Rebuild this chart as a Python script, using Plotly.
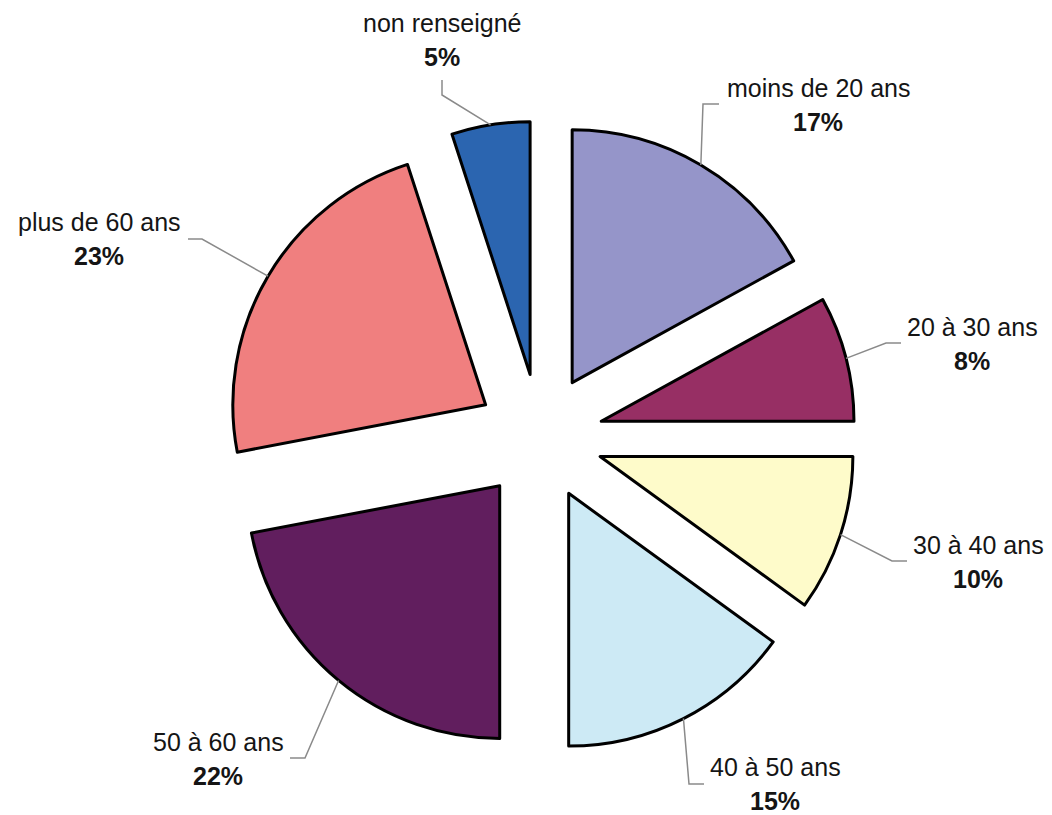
import math
import plotly.graph_objects as go

# Répartition par tranche d'âge (en %)
categories = ["moins de 20 ans", "20 à 30 ans", "30 à 40 ans", "40 à 50 ans",
              "50 à 60 ans", "plus de 60 ans", "non renseigné"]
values = [17, 8, 10, 15, 22, 23, 5]
colors = ["#9595C9", "#972F64", "#FEFBCA", "#CDEAF5", "#611E5E", "#F07F7F", "#2B65B0"]

W, H = 1052, 815
PULL = 0.25
DOM_X = [0.2129, 0.8137]
DOM_Y = [0.0761, 0.8515]
LINE_GAP = 34  # pixels between the name line and the percentage line

# Label anchors (pixel centre of the first line) and leader-line elbow/end points
label_pos = [(818, 88), (972, 327), (978, 545), (775, 767), (218, 742), (99, 222), (442, 23)]
leader_mid = [(703, 104), (886, 343), (892, 561), (689, 784), (305, 758), (202, 239), (442, 95)]
leader_end = [(719, 104), (901, 343), (907, 561), (704, 784), (290, 758), (188, 239), (442, 80)]

fig = go.Figure(go.Pie(
    labels=categories,
    values=values,
    sort=False,
    direction="clockwise",
    rotation=0,
    pull=[PULL] * len(values),
    marker=dict(colors=colors, line=dict(color="#000000", width=3)),
    textinfo="none",
    hoverinfo="label+percent",
    showlegend=False,
    domain=dict(x=DOM_X, y=DOM_Y),
))

# Geometry of the pie in pixels, following plotly's own sizing rule
cx = W * (DOM_X[0] + DOM_X[1]) / 2
cy = H * (1 - (DOM_Y[0] + DOM_Y[1]) / 2)
r = min(W * (DOM_X[1] - DOM_X[0]), H * (DOM_Y[1] - DOM_Y[0])) / 2 / (1 + PULL)
total = sum(values)


def px(x, y):
    return x / W, 1 - y / H


FONT = dict(family="Liberation Sans, Arial, sans-serif", size=25, color="#151515")

shapes = []
annotations = []
cum = 0
for i, (cat, v) in enumerate(zip(categories, values)):
    theta = 2 * math.pi * (cum + v / 2) / total
    cum += v
    rr = r * (1 + PULL)
    sx = cx + rr * math.sin(theta)
    sy = cy - rr * math.cos(theta)
    p0 = px(sx, sy)
    p1 = px(*leader_mid[i])
    p2 = px(*leader_end[i])
    shapes.append(dict(
        type="path", xref="paper", yref="paper",
        path=f"M {p0[0]},{p0[1]} L {p1[0]},{p1[1]} L {p2[0]},{p2[1]}",
        line=dict(color="#8a8a8a", width=1.5),
    ))
    lx, ly = px(*label_pos[i])
    _, ly2 = px(label_pos[i][0], label_pos[i][1] + LINE_GAP)
    annotations.append(dict(
        x=lx, y=ly, xref="paper", yref="paper",
        xanchor="center", yanchor="middle", showarrow=False,
        borderpad=0, text=cat, font=FONT,
    ))
    annotations.append(dict(
        x=lx, y=ly2, xref="paper", yref="paper",
        xanchor="center", yanchor="middle", showarrow=False,
        borderpad=0, text=f"<b>{v}%</b>", font=FONT,
    ))

fig.update_layout(
    width=W, height=H,
    margin=dict(l=0, r=0, t=0, b=0),
    paper_bgcolor="#ffffff",
    plot_bgcolor="#ffffff",
    shapes=shapes,
    annotations=annotations,
)

fig.write_html("out.html")
